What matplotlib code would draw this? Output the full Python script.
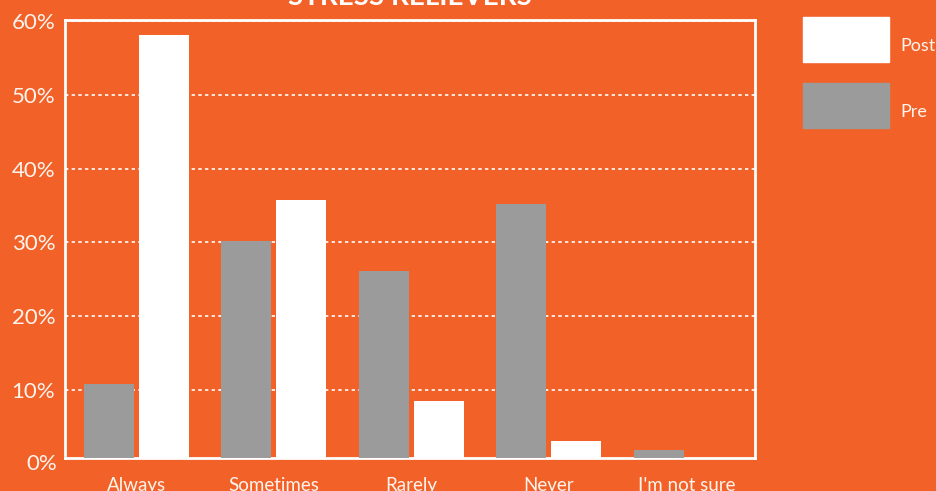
import numpy as np
import matplotlib.pyplot as plt
import matplotlib.transforms as mtransforms
from matplotlib.patches import Rectangle

# survey answers, share of respondents in percent
categories = ["Always", "Sometimes", "Rarely", "Never", "I'm not sure"]
pre = [10.8, 30.2, 26.1, 35.2, 1.9]
post = [58.1, 35.7, 8.5, 3.1, 0.0]
yticks = [0, 10, 20, 30, 40, 50, 60]

orange = "#F26228"
grey = "#9B9B9B"
font = ["Lato", "DejaVu Sans"]

fig = plt.figure(figsize=(9.36, 4.91), dpi=100, facecolor=orange)
ax = fig.add_axes([65 / 936, 1 - 457.5 / 491, 690 / 936, 437.5 / 491])
ax.set_facecolor(orange)

x = np.arange(len(categories))
w = 0.364
ax.bar(x - 0.2, pre, w, color=grey, zorder=3)
ax.bar(x + 0.2, post, w, color="white", zorder=3)

ax.set_xlim(-0.52, 4.5)
ax.set_ylim(0.85, 60.13)

for s in ax.spines.values():
    s.set_color("white")
    s.set_linewidth(2)

ax.set_yticks(yticks[1:])
ax.set_yticklabels([f"{v}%" for v in yticks[1:]], family=font, fontsize=16,
                   color="#FFF4EE")
ax.tick_params(axis="y", length=0, pad=7)
# 0% sits just under the frame, outside the view limits
trans = mtransforms.blended_transform_factory(ax.transAxes, ax.transData)
ax.text(-0.0116, 0, "0%", transform=trans, ha="right", va="center",
        family=font, fontsize=16, color="#FFF4EE", clip_on=False)

ax.set_xticks(x)
ax.set_xticklabels(categories, family=font, fontsize=13.5, color="#FFF4EE")
ax.tick_params(axis="x", length=0, pad=14)

ax.grid(axis="y", color="white", linestyle=(0, (2, 2)), linewidth=1.2, zorder=1)
ax.set_axisbelow(True)

fig.text(410 / 936, 1 - 5 / 491, "STRESS RELIEVERS", ha="center", va="baseline",
         family=font, fontweight="bold", fontsize=20, color="white")

# legend drawn as plain boxes on the right
fig.patches.append(Rectangle((803 / 936, 1 - 62 / 491), 86 / 936, 45 / 491,
                             color="white", transform=fig.transFigure))
fig.patches.append(Rectangle((803 / 936, 1 - 128 / 491), 86 / 936, 45 / 491,
                             color=grey, transform=fig.transFigure))
fig.text(900 / 936, 1 - 46 / 491, "Post", va="center", family=font,
         fontsize=13, color="#FFF4EE")
fig.text(900 / 936, 1 - 112 / 491, "Pre", va="center", family=font,
         fontsize=13, color="#FFF4EE")

fig.savefig("out.png", dpi=100, facecolor=orange)
